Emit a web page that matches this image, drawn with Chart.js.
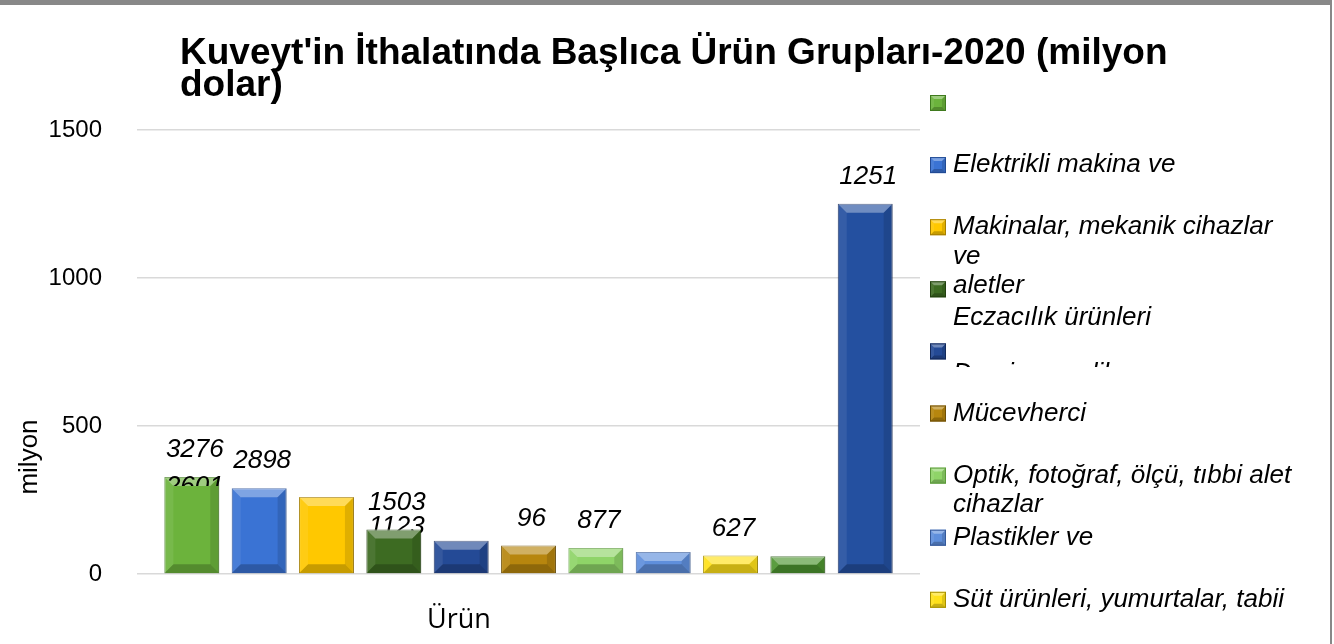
<!DOCTYPE html>
<html>
<head>
<meta charset="utf-8">
<script src="https://cdn.jsdelivr.net/npm/chart.js@4.4.1/dist/chart.umd.min.js"></script>
<style>
  html, body { margin: 0; padding: 0; background: #fff; }
  #wrap { position: relative; width: 1334px; height: 644px; }
  #frame {
    position: absolute; left: 0; top: 0; width: 1332px; height: 644px;
    border-top: 5px solid #888; border-right: 2px solid #888;
    box-sizing: border-box; pointer-events: none;
  }
</style>
</head>
<body>
<div id="wrap">
  <canvas id="chart" width="1334" height="644"></canvas>
  <div id="frame"></div>
</div>
<script>
const titleLines = ["Kuveyt'in İthalatında Başlıca Ürün Grupları-2020 (milyon", 'dolar)'];
const category = ['Ürün'];
const yTicks = [0, 500, 1000, 1500];
const values = [327.6, 289.8, 260.1, 150.3, 112.3, 96, 87.7, 74, 62.7, 60, 1251];
const valueLabels = ['3276', '2898', '2601', '1503', '1123', '96', '877', '', '627', '', '1251'];
const seriesNames = ['', 'Elektrikli makina ve', 'Makinalar, mekanik cihazlar ve aletler', 'Eczacılık ürünleri',
  'Demir ve çelik eşya', 'Mücevherci', 'Optik, fotoğraf, ölçü, tıbbi alet cihazlar', 'Plastikler ve',
  'Süt ürünleri, yumurtalar, tabii', '', ''];
const legendLines = [
  [''],
  ['Elektrikli makina ve'],
  ['Makinalar, mekanik cihazlar', 've', 'aletler'],
  ['Eczacılık ürünleri'],
  ['Demir ve çelik eşya'],
  ['Mücevherci'],
  ['Optik, fotoğraf, ölçü, tıbbi alet', 'cihazlar'],
  ['Plastikler ve'],
  ['Süt ürünleri, yumurtalar, tabii']
];
const colors = ['#6cb33c', '#3a73d4', '#ffc800', '#3d6b22', '#244a96', '#b7860e',
  '#8fd468', '#5f8fdc', '#ffe11a', '#4e9530', '#2450a0'];
const edges = ['#3f7a1e', '#214a94', '#a67f00', '#22400f', '#13295a', '#6e4f05',
  '#5b9a3a', '#35599a', '#a89100', '#2c5a17', '#13295a'];

// labels that Excel drew next to another bar
const movedLabels = { 2: { at: 0, dy: 10, clipBottom: 486 }, 4: { at: 3, dy: 14, behind: true } };

function bevel(ctx, l, t, r, b, d) {
  d = Math.min(d, (b - t) / 2, (r - l) / 2);
  const poly = (pts, fill) => {
    ctx.beginPath();
    ctx.moveTo(pts[0][0], pts[0][1]);
    pts.slice(1).forEach(p => ctx.lineTo(p[0], p[1]));
    ctx.closePath();
    ctx.fillStyle = fill;
    ctx.fill();
  };
  poly([[l, t], [r, t], [r - d, t + d], [l + d, t + d]], 'rgba(255,255,255,0.35)');
  poly([[l, t], [l + d, t + d], [l + d, b - d], [l, b]], 'rgba(255,255,255,0.08)');
  poly([[r, t], [r, b], [r - d, b - d], [r - d, t + d]], 'rgba(0,0,0,0.12)');
  poly([[l, b], [r, b], [r - d, b - d], [l + d, b - d]], 'rgba(0,0,0,0.22)');
}

function barOf(chart, i) {
  return chart.getDatasetMeta(i).data[0];
}

function drawValueLabel(chart, i) {
  const ctx = chart.ctx;
  const own = barOf(chart, i);
  const mv = movedLabels[i];
  let x = own.x, y = own.y - 27;
  if (mv) {
    x = barOf(chart, mv.at).x;
    y = own.y - mv.dy;
  }
  ctx.save();
  if (mv && mv.clipBottom) {
    ctx.beginPath();
    ctx.rect(0, 0, chart.width, mv.clipBottom);
    ctx.clip();
  }
  ctx.font = 'italic 26px "Liberation Sans", Arial, sans-serif';
  ctx.fillStyle = '#000';
  ctx.textAlign = 'center';
  ctx.textBaseline = 'middle';
  ctx.fillText(valueLabels[i], x + 3, y);
  ctx.restore();
}

const decorations = {
  id: 'decorations',
  beforeDatasetsDraw(chart) {
    valueLabels.forEach((t, i) => {
      if (t && movedLabels[i] && movedLabels[i].behind) drawValueLabel(chart, i);
    });
  },
  afterDatasetsDraw(chart) {
    const ctx = chart.ctx;
    ctx.save();
    values.forEach((v, i) => {
      const bar = barOf(chart, i);
      const l = bar.x - bar.width / 2, r = bar.x + bar.width / 2;
      bevel(ctx, l, bar.y, r, bar.base, 9);
    });
    ctx.restore();
    valueLabels.forEach((t, i) => {
      if (t && !(movedLabels[i] && movedLabels[i].behind)) drawValueLabel(chart, i);
    });
  },
  afterDraw(chart) {
    const ctx = chart.ctx;
    ctx.save();
    // title
    ctx.fillStyle = '#000';
    ctx.font = 'bold 37px "Liberation Sans", Arial, sans-serif';
    ctx.textAlign = 'left';
    ctx.textBaseline = 'middle';
    titleLines.forEach((t, k) => ctx.fillText(t, 180, 54 + k * 32));

    // axis titles
    ctx.font = '27px "Open Sans", "Noto Sans", sans-serif';
    ctx.textAlign = 'center';
    ctx.fillText(category[0], 459, 620);
    ctx.save();
    ctx.translate(30, 457);
    ctx.rotate(-Math.PI / 2);
    ctx.font = '26px "Liberation Sans", Arial, sans-serif';
    ctx.fillText('milyon', 0, 0);
    ctx.restore();

    // legend
    ctx.font = 'italic 26px "Liberation Sans", Arial, sans-serif';
    ctx.textAlign = 'left';
    legendLines.forEach((lines, i) => {
      const my = 103 + i * 62.1;
      ctx.fillStyle = colors[i];
      ctx.fillRect(930, my - 8, 16, 16);
      bevel(ctx, 930, my - 8, 946, my + 8, 4);
      ctx.strokeStyle = edges[i];
      ctx.lineWidth = 1;
      ctx.strokeRect(930.5, my - 7.5, 15, 15);
      let ty = my;
      ctx.save();
      if (i === 3) ty = my + 28;
      if (i === 4) {
        ty = my + 22;
        ctx.beginPath();
        ctx.rect(900, 0, 434, 367);
        ctx.clip();
      }
      ctx.fillStyle = '#000';
      lines.forEach((ln, k) => ctx.fillText(ln, 953, ty + k * 29.5));
      ctx.restore();
    });
    ctx.restore();
  }
};

new Chart(document.getElementById('chart').getContext('2d'), {
  type: 'bar',
  data: {
    labels: [''],
    datasets: values.map((v, i) => ({
      label: seriesNames[i],
      data: [v],
      backgroundColor: colors[i],
      borderColor: edges[i],
      borderWidth: 1
    }))
  },
  options: {
    responsive: false,
    animation: false,
    devicePixelRatio: 1,
    categoryPercentage: 0.946,
    barPercentage: 0.815,
    layout: { padding: { top: 130, bottom: 70, left: 0, right: 414 } },
    plugins: { legend: { display: false }, tooltip: { enabled: false }, title: { display: false } },
    scales: {
      x: {
        grid: { display: false },
        border: { display: false },
        ticks: { display: false },
        afterFit: s => { s.height = 0; }
      },
      y: {
        min: yTicks[0],
        max: yTicks[yTicks.length - 1],
        afterBuildTicks: s => { s.ticks = yTicks.map(v => ({ value: v })); },
        afterFit: s => { s.width = 137; },
        grid: { color: '#d9d9d9', lineWidth: 1.5, drawTicks: false },
        border: { display: false },
        ticks: {
          padding: 35,
          color: '#000',
          callback: v => String(v),
          font: { family: '"Liberation Sans", Arial, sans-serif', size: 24 }
        }
      }
    }
  },
  plugins: [decorations]
});
</script>
</body>
</html>
